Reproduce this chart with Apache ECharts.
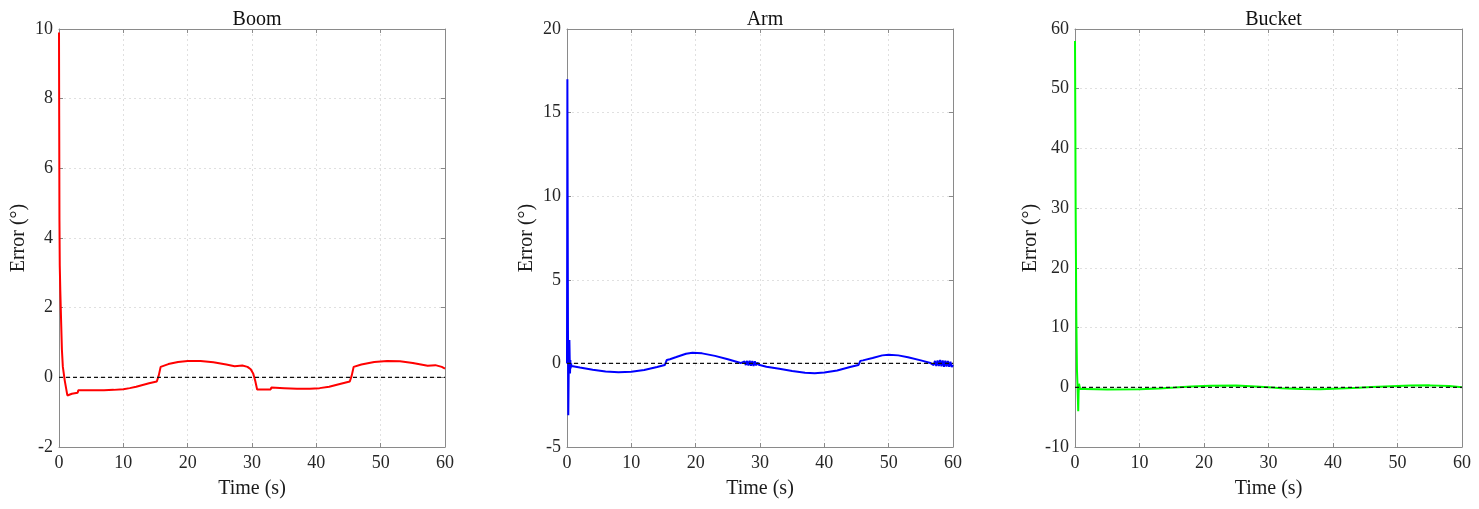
<!DOCTYPE html>
<html>
<head>
<meta charset="utf-8">
<title>Joint tracking error</title>
<script src="https://cdn.jsdelivr.net/npm/echarts@6/dist/echarts.min.js"></script>
<style>
  html, body { margin: 0; padding: 0; background: #fff; }
  #chart { width: 1479px; height: 509px; }
</style>
</head>
<body>
<div id="chart"></div>
<script>
// panel titles and axis ranges
const panelTitles = ['Boom', 'Arm', 'Bucket'];
const yRanges = [[-2, 10, 2], [-5, 20, 5], [-10, 60, 10]];
const timeRange = [0, 60, 10];
const lineColors = ['#ff0000', '#0000ff', '#00ff00'];

// [time (s), error (deg)]
const boomError = [
  [0, 9.9], [0.03, 7.5], [0.07, 4.5], [0.12, 3.2], [0.2, 2.5], [0.3, 1.8], [0.45, 0.8],
  [0.6, 0.3], [0.9, -0.1], [1.3, -0.52], [2, -0.47], [2.9, -0.44], [3.0, -0.37],
  [5, -0.37], [7, -0.37], [8.5, -0.36], [10, -0.34], [11, -0.31], [12, -0.27],
  [13, -0.22], [14, -0.17], [15.2, -0.12], [15.5, 0.05], [15.8, 0.3], [17, 0.38],
  [18.5, 0.44], [20, 0.47], [22, 0.47], [24, 0.43], [26, 0.37], [27.3, 0.32],
  [27.4, 0.36], [28.5, 0.34], [29.3, 0.3], [29.8, 0.23], [30.2, 0.1], [30.5, -0.1],
  [30.8, -0.35], [32.9, -0.35], [33.0, -0.29], [35, -0.31], [37, -0.33], [39, -0.33],
  [40.5, -0.31], [42, -0.27], [43.5, -0.2], [45.2, -0.12], [45.5, 0.05], [45.8, 0.3],
  [47, 0.37], [49, 0.44], [51, 0.47], [53, 0.46], [55, 0.41], [57.3, 0.33],
  [57.4, 0.37], [58.5, 0.35], [59.5, 0.3], [60, 0.25]
];

const armError = [
  [0, 0], [0.03, 8], [0.06, 17], [0.1, 10], [0.15, 2], [0.2, -3.1], [0.25, -1],
  [0.3, 0.5], [0.37, 1.4], [0.42, 0.3], [0.47, -0.6], [0.52, 0.2], [0.57, -0.3],
  [0.62, 0], [0.7, -0.15], [2, -0.25], [4, -0.38], [6, -0.48], [8, -0.53],
  [10, -0.5], [12, -0.4], [14, -0.22], [15.2, -0.1], [15.5, 0.2], [16, 0.25],
  [17, 0.38], [18.5, 0.58], [19.5, 0.63], [21, 0.6], [23, 0.45], [25, 0.25],
  [27, 0.02], [27.6, 0.12], [27.8, -0.1], [28, 0.15], [28.2, -0.13], [28.4, 0.16],
  [28.6, -0.14], [28.8, 0.15], [29, -0.15], [29.2, 0.12], [29.4, -0.12], [29.6, 0.05],
  [29.8, -0.08], [31, -0.2], [33, -0.32], [35, -0.45], [37, -0.56], [38.5, -0.59],
  [40, -0.55], [42, -0.42], [44, -0.22], [45.3, -0.1], [45.6, 0.15], [46, 0.18],
  [47.5, 0.32], [49, 0.48], [50, 0.52], [51.5, 0.48], [53, 0.37], [55, 0.18],
  [56.5, 0.02], [56.8, 0.12], [57, -0.1], [57.2, 0.15], [57.4, -0.15], [57.6, 0.18],
  [57.8, -0.16], [58, 0.2], [58.2, -0.18], [58.4, 0.18], [58.6, -0.2], [58.8, 0.16],
  [59, -0.18], [59.2, 0.15], [59.4, -0.2], [59.6, 0.1], [59.8, -0.22], [60, -0.1]
];

const bucketError = [
  [0, 58], [0.05, 45], [0.1, 30], [0.2, 12], [0.3, 3], [0.38, 0.5], [0.45, -2],
  [0.5, -4], [0.55, -1], [0.62, 0.6], [0.7, 0.2], [0.8, -0.3], [1.5, -0.3],
  [5, -0.38], [10, -0.33], [13, -0.2], [15.5, -0.05], [18, 0.12], [21, 0.25],
  [25, 0.28], [28, 0.15], [30, 0], [32, -0.15], [35, -0.3], [38, -0.32],
  [41, -0.22], [44, -0.08], [46, 0.05], [49, 0.18], [52, 0.28], [55, 0.32],
  [58, 0.2], [60, 0.02]
];

const zeroRef = [[0, 0], [60, 0]];
const panelData = [boomError, armError, bucketError];

const FONT = '"Liberation Serif", "DejaVu Serif", serif';
const FRAME = '#8a8a8a';
const grids = [
  { left: 59, width: 386 },
  { left: 567, width: 386 },
  { left: 1075, width: 387 },
];

const chart = echarts.init(document.getElementById('chart'), null, { renderer: 'canvas' });

const xAxes = [];
const yAxes = [];
const series = [];

grids.forEach((g, i) => {
  const [ymin, ymax, ystep] = yRanges[i];
  const tick = { inside: true, length: 4, lineStyle: { color: FRAME } };
  const line = { show: true, onZero: false, lineStyle: { color: FRAME, width: 1 } };
  const grid = { show: true, lineStyle: { color: '#e0e0e0', type: [2, 3], width: 1 } };

  // bottom / left axes with labels and grid
  xAxes.push({
    type: 'value', gridIndex: i, min: timeRange[0], max: timeRange[1], interval: timeRange[2],
    name: 'Time (s)', nameLocation: 'middle', nameGap: 32,
    nameTextStyle: { fontFamily: FONT, fontSize: 20, color: '#1a1a1a' },
    axisLine: line, axisTick: tick,
    axisLabel: { fontFamily: FONT, fontSize: 18, color: '#262626', margin: 7 },
    splitLine: grid,
  });
  yAxes.push({
    type: 'value', gridIndex: i, min: ymin, max: ymax, interval: ystep,
    name: 'Error (°)', nameLocation: 'middle', nameGap: 30,
    nameTextStyle: { fontFamily: FONT, fontSize: 20, color: '#1a1a1a' },
    axisLine: line, axisTick: tick,
    axisLabel: { fontFamily: FONT, fontSize: 18, color: '#262626', margin: 6 },
    splitLine: grid,
  });
  // top / right axes: frame and inner ticks only
  xAxes.push({
    type: 'value', gridIndex: i, position: 'top', min: timeRange[0], max: timeRange[1], interval: timeRange[2],
    axisLine: line, axisTick: tick, axisLabel: { show: false }, splitLine: { show: false },
  });
  yAxes.push({
    type: 'value', gridIndex: i, position: 'right', min: ymin, max: ymax, interval: ystep,
    axisLine: line, axisTick: tick, axisLabel: { show: false }, splitLine: { show: false },
  });

  series.push({
    type: 'line', xAxisIndex: i * 2, yAxisIndex: i * 2, data: panelData[i],
    showSymbol: false, symbol: 'none', smooth: false, z: 3,
    lineStyle: { color: lineColors[i], width: 2 },
  });
  series.push({
    type: 'line', xAxisIndex: i * 2, yAxisIndex: i * 2, data: zeroRef,
    showSymbol: false, symbol: 'none', z: 4,
    lineStyle: { color: '#111', width: 1.3, type: [4, 3] },
  });
});

chart.setOption({
  backgroundColor: '#fff',
  animation: false,
  title: grids.map((g, i) => ({
    text: panelTitles[i],
    left: g.left + g.width / 2,
    top: 5,
    textAlign: 'center',
    textStyle: { fontFamily: FONT, fontSize: 20, fontWeight: 'normal', color: '#111' },
  })),
  grid: grids.map(g => ({ left: g.left, width: g.width, top: 29, bottom: 62, containLabel: false })),
  xAxis: xAxes,
  yAxis: yAxes,
  series,
});

window.addEventListener('resize', () => chart.resize());
</script>
</body>
</html>
